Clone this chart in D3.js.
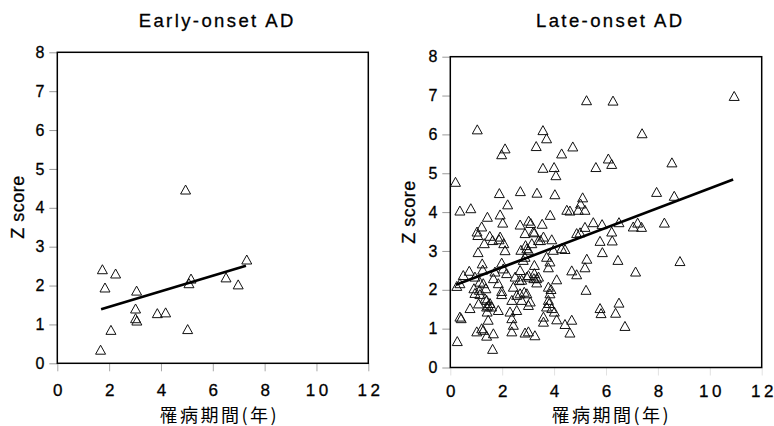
<!DOCTYPE html>
<html><head><meta charset="utf-8">
<script src="https://cdn.jsdelivr.net/npm/d3@7"></script>
<style>html,body{margin:0;padding:0;background:#fff;} svg{display:block;}</style>
</head><body>
<svg id="c" width="774" height="426"></svg>
<script>
const xTicks = [0, 2, 4, 6, 8, 10, 12];
const yTicks = [0, 1, 2, 3, 4, 5, 6, 7, 8];
const panelTitles = ["Early-onset AD", "Late-onset AD"];
const xAxisLabel = "罹病期間(年)";
const yAxisLabel = "Z score";

const earlyPoints = [
  [1.74,2.42],[2.25,2.31],[1.84,1.95],[3.06,1.87],[3.02,1.41],[3.02,1.16],[3.07,1.10],
  [3.86,1.29],[4.18,1.31],[2.07,0.86],[1.67,0.35],[4.95,4.47],[5.16,2.18],[5.08,2.06],
  [5.03,0.88],[6.51,2.21],[6.98,2.03],[7.31,2.67]
];
const earlyFit = [[1.69,1.39],[7.28,2.51]];

const latePoints = [
  [10.94,6.99],[5.25,6.88],[6.27,6.87],[1.04,6.13],[7.39,6.03],[3.57,6.11],[3.71,5.90],
  [3.31,5.70],[4.72,5.69],[2.11,5.64],[1.98,5.49],[4.29,5.51],[6.09,5.38],[6.22,5.24],
  [8.54,5.28],[3.57,5.14],[4.00,5.16],[4.07,4.95],[5.61,5.16],[0.20,4.78],[1.89,4.49],
  [2.70,4.54],[3.34,4.50],[4.03,4.46],[7.95,4.52],[8.63,4.42],
  [5.10,4.38],[5.02,4.22],[5.19,4.06],[4.49,4.06],[4.61,4.04],[4.93,4.06],
  [2.21,4.20],[0.37,4.04],[0.79,4.10],[1.92,3.94],[3.85,3.93],[2.02,3.73],[1.43,3.88],
  [1.21,3.63],[2.69,3.68],[3.02,3.78],[3.10,3.72],[3.54,3.70],[5.51,3.74],[5.85,3.69],
  [5.19,3.62],[6.50,3.74],[7.05,3.63],[7.22,3.73],[7.37,3.62],[8.25,3.73],[6.22,3.50],
  [1.03,3.50],[1.06,3.41],[1.52,3.39],[1.63,3.28],[1.88,3.30],[1.92,3.37],[1.31,3.20],
  [2.06,3.20],[3.20,3.50],[3.24,3.48],[2.88,3.46],[3.59,3.37],[3.48,3.28],[3.40,3.28],
  [3.91,3.30],[4.87,3.46],[5.00,3.48],[5.77,3.26],[6.24,3.27],[3.14,3.20],[2.90,3.15],
  [1.07,2.97],[2.11,3.02],[2.72,3.03],[2.95,3.07],[3.01,3.03],[3.97,3.03],[4.29,3.07],
  [4.42,3.05],[5.86,2.97],[2.81,2.77],[2.88,2.85],[3.71,2.85],[3.84,2.73],[5.26,2.80],
  [6.46,2.77],[8.85,2.74],[1.23,2.68],[3.24,2.64],[3.78,2.58],[1.98,2.70],[2.04,2.55],
  [5.19,2.58],[4.68,2.50],[4.87,2.40],[7.14,2.47],
  [0.73,2.49],[1.25,2.52],[0.50,2.38],[0.95,2.34],[1.72,2.47],[2.17,2.43],[2.50,2.34],
  [2.75,2.26],[2.95,2.34],[3.01,2.38],[3.24,2.43],[3.33,2.30],[3.40,2.34],[4.10,2.27],
  [2.69,2.51],[0.37,2.17],[0.25,2.10],[1.14,2.21],[1.27,2.17],[1.66,2.30],[1.85,2.17],
  [2.43,2.08],[2.66,2.25],[3.22,2.30],[3.33,2.19],
  [0.91,2.04],[1.12,2.00],[0.95,1.92],[1.37,2.04],[1.98,1.97],[3.78,2.08],[3.88,2.02],
  [5.23,2.00],[1.98,1.89],[2.69,1.91],[2.85,1.95],[2.95,1.91],[3.84,1.91],[1.14,1.89],
  [1.34,1.78],[1.40,1.74],[2.37,1.74],[2.56,1.87],[2.75,1.74],[3.08,1.70],[3.78,1.74],
  [3.81,1.66],[1.53,1.66],[1.40,1.57],[1.59,1.57],[1.46,1.60],[1.09,1.65],[3.01,1.61],
  [3.71,1.57],[3.91,1.53],[4.01,1.44],
  [5.77,1.53],[6.50,1.67],[5.81,1.40],[6.37,1.41],[0.76,1.53],[1.85,1.48],[1.42,1.44],
  [2.30,1.44],[2.56,1.48],
  [0.37,1.31],[0.42,1.27],[1.46,1.23],[2.37,1.27],[3.59,1.31],[3.59,1.18],[4.10,1.24],
  [4.68,1.23],[4.42,1.12],[2.43,1.10],[6.73,1.07],[1.21,1.01],
  [0.27,0.68],[1.02,0.93],[1.27,0.97],[1.40,0.82],[1.66,0.88],[2.37,0.93],[2.88,0.90],
  [3.01,0.93],[3.26,0.83],[4.61,0.90],[1.63,0.48]
];
const lateFit = [[0.22,2.13],[10.9,4.84]];

const LATIN = "'Liberation Sans', Arial, sans-serif";
const CJK = "'Noto Sans CJK JP', sans-serif";
const svg = d3.select("#c");

const panels = [
  {pts: earlyPoints, fit: earlyFit, title: panelTitles[0],
   x0: 57.3, x1: 368.3, y0: 363.3, y1: 52.3, xTickColor: "#a8a8a8",
   titleX: 216, titleY: 27, xlabX: 218, xlabY: 421.5, ylabX: 24, ylabY: 207, padX: 12.6},
  {pts: latePoints, fit: lateFit, title: panelTitles[1],
   x0: 450.3, x1: 761.7, y0: 367.5, y1: 56.7, xTickColor: "#e2e2e2",
   titleX: 609, titleY: 27, xlabX: 610, xlabY: 422, ylabX: 415, ylabY: 212, padX: 9.5}
];

const tri = "M0,-4.5L5,4.5L-5,4.5Z";
const digitGap = 3.5;

panels.forEach(p => {
  const x = d3.scaleLinear().domain([0, 12]).range([p.x0, p.x1]);
  const y = d3.scaleLinear().domain([0, 8]).range([p.y0, p.y1]);
  const g = svg.append("g");

  // y axis
  const ya = g.append("g").attr("transform", `translate(${p.x0},0)`)
    .call(d3.axisLeft(y).tickValues(yTicks).tickSize(8).tickPadding(5).tickFormat(d3.format("d")));
  ya.select(".domain").remove();
  ya.selectAll(".tick line").attr("stroke", "#999").attr("stroke-width", 1);
  ya.selectAll(".tick text").attr("font-family", LATIN).attr("font-size", 16).attr("fill", "#000")
    .attr("stroke", "#000").attr("stroke-width", 0.3);

  // x axis
  const xa = g.append("g").attr("transform", `translate(0,${p.y0})`)
    .call(d3.axisBottom(x).tickValues(xTicks).tickSize(8).tickPadding(p.padX).tickFormat(d3.format("d")));
  xa.select(".domain").remove();
  xa.selectAll(".tick line").attr("stroke", p.xTickColor).attr("stroke-width", 1);
  xa.selectAll(".tick text").attr("font-family", LATIN).attr("font-size", 17).attr("fill", "#000")
    .attr("stroke", "#000").attr("stroke-width", 0.3)
    .each(function() {
      const t = d3.select(this);
      const s = t.text();
      t.text(null);
      s.split("").forEach((ch, i) => {
        t.append("tspan").attr("dx", i === 0 ? 0 : digitGap).text(ch);
      });
    });

  // frame
  g.append("rect").attr("x", p.x0).attr("y", p.y1)
    .attr("width", p.x1 - p.x0).attr("height", p.y0 - p.y1)
    .attr("fill", "none").attr("stroke", "#000").attr("stroke-width", 1.5);

  // points
  g.append("g").selectAll("path").data(p.pts).join("path")
    .attr("d", tri)
    .attr("transform", d => `translate(${x(d[0])},${y(d[1])})`)
    .attr("fill", "none").attr("stroke", "#111").attr("stroke-width", 1);

  // fit line
  g.append("path").datum(p.fit)
    .attr("d", d3.line().x(d => x(d[0])).y(d => y(d[1])))
    .attr("fill", "none").attr("stroke", "#000").attr("stroke-width", 2.6);

  // titles
  g.append("text").attr("x", p.titleX).attr("y", p.titleY).attr("dx", 1.2)
    .attr("text-anchor", "middle").attr("font-family", LATIN).attr("font-size", 18.5)
    .attr("stroke", "#000").attr("stroke-width", 0.3)
    .style("letter-spacing", "2.4px").text(p.title);

  g.append("text").attr("x", p.xlabX).attr("y", p.xlabY).attr("dx", 1.25)
    .attr("text-anchor", "middle").attr("font-family", CJK).attr("font-size", 18)
    .style("letter-spacing", "2.5px").text(xAxisLabel);

  g.append("text").attr("transform", `translate(${p.ylabX},${p.ylabY}) rotate(-90)`)
    .attr("text-anchor", "middle").attr("font-family", LATIN).attr("font-size", 18)
    .attr("stroke", "#000").attr("stroke-width", 0.3)
    .style("letter-spacing", "0.5px").text(yAxisLabel);
});
</script>
</body></html>
